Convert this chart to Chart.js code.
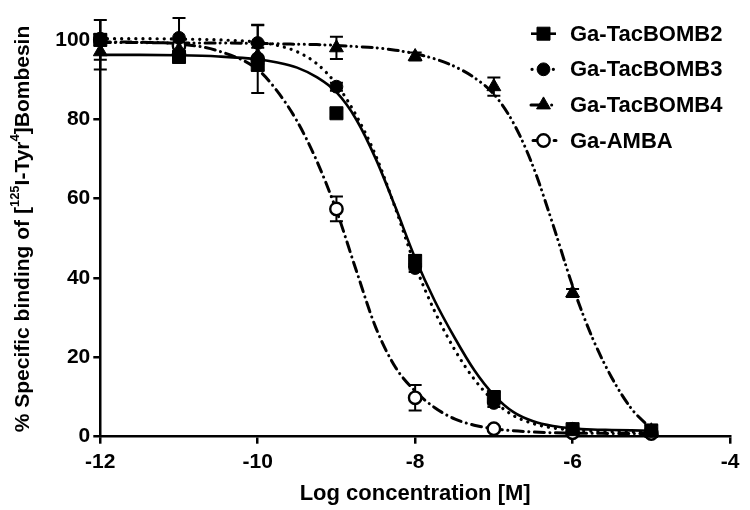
<!DOCTYPE html>
<html>
<head>
<meta charset="utf-8">
<script src="https://cdn.jsdelivr.net/npm/chart.js@4/dist/chart.umd.min.js"></script>
<style>
html,body{margin:0;padding:0;background:#fff;}
#wrap{position:relative;width:750px;height:510px;}
</style>
</head>
<body>
<div id="wrap"><canvas id="c" width="750" height="510"></canvas></div>
<script>
// ---- data ----
const seriesNames = ['Ga-TacBOMB2', 'Ga-TacBOMB3', 'Ga-TacBOMB4', 'Ga-AMBA'];
const concentrations = [-12, -11, -10, -9, -8, -7, -6, -5];

const bomb2Values = [100.0, 95.7, 93.7, 81.5, 44.3, 10.0, 1.9, 1.5];
const bomb2Errors = [5.0, 1.5, 1.5, 1.0, 1.5, 1.2, 0.6, 1.5];
const bomb3Values = [100.3, 100.5, 99.2, 88.2, 42.5, 8.5, 2.0, 1.5];
const bomb3Errors = [1.0, 5.0, 4.5, 1.0, 1.0, 1.0, 0.5, 0.5];
const bomb4Values = [97.0, 97.5, 96.0, 98.0, 95.8, 88.2, 36.2, 1.5];
const bomb4Errors = [4.5, 1.0, 2.0, 2.8, 1.0, 2.3, 1.0, 1.5];
const ambaValues  = [100.0, 98.5, 95.2, 57.4, 9.8, 2.0, 1.0, 0.8];
const ambaErrors  = [1.5, 1.5, 8.6, 3.1, 3.2, 0.5, 0.3, 0.3];

// fitted curves at these concentrations
const fitX = [-12, -11.5, -11, -10.5, -10, -9.75, -9.5, -9.25, -9, -8.75, -8.5, -8.25, -8,
              -7.75, -7.5, -7.25, -7, -6.75, -6.5, -6.25, -6, -5.75, -5.5, -5.25, -5];
const bomb2Fit = [96.2, 96.2, 96.1, 95.8, 95.1, 94.3, 93.0, 90.6, 86.8, 80.0, 70.0, 57.8, 45.0,
                  34.2, 25.0, 16.8, 10.5, 6.2, 3.9, 2.7, 2.1, 1.8, 1.7, 1.6, 1.5];
const bomb3Fit = [100.3, 100.3, 100.2, 100.0, 99.4, 98.6, 97.0, 94.0, 88.8, 81.0, 70.8, 57.5, 43.2,
                  31.5, 22.0, 14.5, 9.0, 5.3, 3.3, 2.2, 1.7, 1.4, 1.3, 1.2, 1.2];
const bomb4Fit = [99.3, 99.3, 99.2, 99.2, 99.1, 99.0, 98.9, 98.8, 98.6, 98.3, 98.0, 97.4, 96.5,
                  95.2, 93.3, 90.5, 86.3, 79.0, 68.0, 53.5, 38.0, 25.0, 14.8, 7.0, 2.0];
const ambaFit  = [99.5, 99.4, 99.0, 97.2, 92.5, 87.0, 79.5, 69.5, 57.0, 42.0, 27.5, 17.5, 11.5,
                  7.3, 4.5, 2.9, 2.0, 1.5, 1.2, 1.0, 0.9, 0.9, 0.8, 0.8, 0.8];

const xTicks = [-12, -10, -8, -6, -4];
const yTicks = [0, 20, 40, 60, 80, 100];

// ---- styling ----
const FONT = '"Liberation Sans", Arial, Helvetica, sans-serif';
const styles = [
  {pointStyle: 'rect', radius: 9.2, fill: '#000', border: 1, dash: [], cap: 'butt', width: 2.6},
  {pointStyle: 'circle', radius: 6.4, fill: '#000', border: 1, dash: [0.1, 7], cap: 'round', width: 3.2},
  {pointStyle: 'triangle', radius: 8.0, fill: '#000', border: 1, dash: [10, 5, 0.1, 5.5, 0.1, 5.5], cap: 'round', width: 3},
  {pointStyle: 'circle', radius: 6.2, fill: '#fff', border: 2.4, dash: [10, 5.5, 0.1, 5.5], cap: 'round', width: 3}
];
const pointSets = [bomb2Values, bomb3Values, bomb4Values, ambaValues];
const errorSets = [bomb2Errors, bomb3Errors, bomb4Errors, ambaErrors];
const fitSets = [bomb2Fit, bomb3Fit, bomb4Fit, ambaFit];

const datasets = [];
pointSets.forEach((vals, s) => {
  datasets.push({
    label: seriesNames[s],
    data: concentrations.map((x, i) => ({x: x, y: vals[i]})),
    showLine: false,
    pointStyle: styles[s].pointStyle,
    pointRadius: styles[s].radius,
    pointBackgroundColor: styles[s].fill,
    pointBorderColor: '#000',
    pointBorderWidth: styles[s].border,
    order: s,
    clip: false,
    isPoints: true
  });
});
fitSets.forEach((vals, s) => {
  datasets.push({
    label: seriesNames[s] + ' fit',
    data: fitX.map((x, i) => ({x: x, y: vals[i]})),
    showLine: true,
    pointRadius: 0,
    borderColor: '#000',
    borderWidth: styles[s].width,
    borderDash: styles[s].dash,
    borderCapStyle: styles[s].cap,
    cubicInterpolationMode: 'monotone',
    fill: false,
    order: 10 + s,
    clip: false
  });
});

// error bars drawn just before the point markers
let errorsDrawn = false;
const errorBarPlugin = {
  id: 'errorBars',
  beforeDatasetsDraw() { errorsDrawn = false; },
  beforeDatasetDraw(chart, args) {
    if (errorsDrawn || !chart.data.datasets[args.index].isPoints) return;
    errorsDrawn = true;
    const ctx = chart.ctx, xs = chart.scales.x, ys = chart.scales.y;
    ctx.save();
    ctx.strokeStyle = '#000';
    ctx.lineWidth = 2;
    ctx.setLineDash([]);
    for (let s = errorSets.length - 1; s >= 0; s--) {
      concentrations.forEach((c, i) => {
        const e = errorSets[s][i];
        if (!e) return;
        const px = xs.getPixelForValue(c);
        const top = ys.getPixelForValue(pointSets[s][i] + e);
        const bot = ys.getPixelForValue(pointSets[s][i] - e);
        ctx.beginPath();
        ctx.moveTo(px, top); ctx.lineTo(px, bot);
        ctx.moveTo(px - 6.5, top); ctx.lineTo(px + 6.5, top);
        ctx.moveTo(px - 6.5, bot); ctx.lineTo(px + 6.5, bot);
        ctx.stroke();
      });
    }
    ctx.restore();
  }
};

const decorPlugin = {
  id: 'decor',
  afterDraw(chart) {
    const ctx = chart.ctx;
    // y-axis title with superscripts
    ctx.save();
    const parts = [['% Specific binding of [', false], ['125', true], ['I-Tyr', false], ['4', true], [']Bombesin', false]];
    const big = 'bold 21px ' + FONT, small = 'bold 13px ' + FONT;
    let total = 0;
    const widths = parts.map(p => { ctx.font = p[1] ? small : big; const w = ctx.measureText(p[0]).width; total += w; return w; });
    ctx.translate(23, 229);
    ctx.rotate(-Math.PI / 2);
    ctx.fillStyle = '#000';
    ctx.textBaseline = 'middle';
    ctx.textAlign = 'left';
    let x = -total / 2;
    parts.forEach((p, i) => {
      ctx.font = p[1] ? small : big;
      ctx.fillText(p[0], x, p[1] ? -7.5 : 0);
      x += widths[i];
    });
    ctx.restore();

    // legend
    ctx.save();
    for (let s = 0; s < seriesNames.length; s++) {
      const y = 33.7 + s * 35.6;
      ctx.strokeStyle = '#000';
      ctx.lineWidth = styles[s].width;
      ctx.setLineDash(styles[s].dash);
      ctx.lineCap = styles[s].cap;
      ctx.beginPath();
      if (s === 1) { ctx.moveTo(532, y); ctx.lineTo(556, y); }
      else if (s === 3) { ctx.moveTo(533, y); ctx.lineTo(556, y); }
      else { ctx.moveTo(531, y); ctx.lineTo(556, y); }
      ctx.stroke();
      ctx.setLineDash([]);
      ctx.lineCap = 'butt';
      ctx.fillStyle = styles[s].fill;
      ctx.lineWidth = styles[s].border;
      Chart.helpers.drawPoint(ctx, {pointStyle: styles[s].pointStyle, radius: styles[s].radius, borderWidth: styles[s].border, rotation: 0}, 543.5, y);
      ctx.fillStyle = '#000';
      ctx.font = 'bold 22px ' + FONT;
      ctx.textBaseline = 'middle';
      ctx.textAlign = 'left';
      ctx.fillText(seriesNames[s], 570, y + 1);
    }
    ctx.restore();
  }
};

new Chart(document.getElementById('c'), {
  type: 'scatter',
  data: {datasets: datasets},
  plugins: [errorBarPlugin, decorPlugin],
  options: {
    responsive: false,
    animation: false,
    devicePixelRatio: 1,
    layout: {padding: {top: 20, right: 20, left: 0, bottom: 0}},
    plugins: {legend: {display: false}, tooltip: {enabled: false}},
    scales: {
      x: {
        type: 'linear', min: -12, max: -4,
        afterBuildTicks(axis) { axis.ticks = xTicks.map(v => ({value: v})); },
        afterFit(axis) { axis.height = 73.3; },
        grid: {drawOnChartArea: false, drawTicks: true, tickLength: 7, color: '#000', lineWidth: 2.5},
        border: {display: true, color: '#000', width: 2.5},
        ticks: {color: '#000', padding: 6, font: {family: FONT, size: 21, weight: 'bold'}, maxRotation: 0,
                callback: v => String(v)},
        title: {display: true, text: 'Log concentration [M]', color: '#000',
                font: {family: FONT, size: 22, weight: 'bold'}, padding: {top: 0, bottom: 3}}
      },
      y: {
        type: 'linear', min: 0, max: 105,
        afterBuildTicks(axis) { axis.ticks = yTicks.map(v => ({value: v})); },
        afterFit(axis) { axis.width = 100.3; },
        grid: {drawOnChartArea: false, drawTicks: true, tickLength: 7, color: '#000', lineWidth: 2.5},
        border: {display: true, color: '#000', width: 2.5},
        ticks: {color: '#000', padding: 3, font: {family: FONT, size: 21, weight: 'bold'},
                callback: v => String(v)}
      }
    }
  }
});
</script>
</body>
</html>
